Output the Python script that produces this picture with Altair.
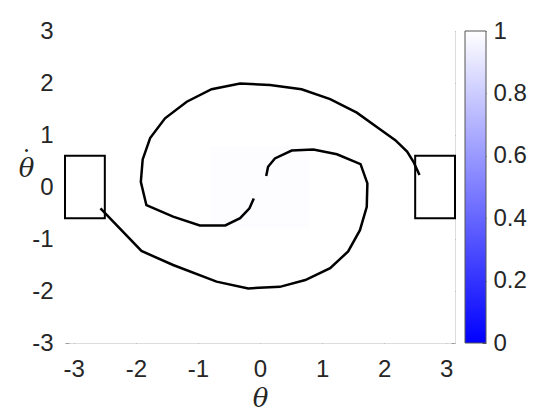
import altair as alt
import numpy as np
import pandas as pd

PI = float(np.pi)

# Trajectory A (starts in right box, spirals in toward the centre)
curveA_theta = [2.57, 2.47, 2.37, 2.18, 1.91, 1.56, 1.13, 0.67, 0.16, -0.32, -0.78, -1.18,
                -1.53, -1.77, -1.89, -1.92, -1.83, -1.40, -0.97, -0.56, -0.32, -0.17, -0.10]
curveA_dtheta = [0.23, 0.49, 0.68, 0.90, 1.13, 1.43, 1.69, 1.88, 1.96, 1.99, 1.88, 1.64,
                 1.32, 0.94, 0.53, 0.10, -0.35, -0.57, -0.74, -0.74, -0.60, -0.41, -0.22]

# Trajectory B (starts in left box, spirals in toward the centre)
curveB_theta = [-2.57, -1.91, -1.40, -0.70, -0.19, 0.32, 0.73, 1.13, 1.42, 1.61, 1.72, 1.73,
                1.62, 1.24, 0.86, 0.51, 0.24, 0.13, 0.10]
curveB_dtheta = [-0.41, -1.23, -1.50, -1.82, -1.95, -1.92, -1.79, -1.56, -1.24, -0.83, -0.38, 0.07,
                 0.44, 0.63, 0.72, 0.70, 0.55, 0.39, 0.21]

# Goal boxes
box_theta0 = [-PI, 2.5]
box_theta1 = [-2.5, PI]
box_dtheta0 = [-0.6, -0.6]
box_dtheta1 = [0.6, 0.6]

# Background value field (almost entirely 1 = white)
heat_theta_edges = [-PI, -0.8, 0.8, PI]
heat_dtheta_edges = [-3.0, -0.8, 0.8, 3.0]
heat_values = [[1.0, 1.0, 1.0],
               [1.0, 0.993, 1.0],
               [1.0, 1.0, 1.0]]

tick_vals = [-3, -2, -1, 0, 1, 2, 3]
cbar_lo = [0.0]
cbar_hi = [1.0]
cbar_vals = [0, 0.2, 0.4, 0.6, 0.8, 1]
CMAP_LOW, CMAP_HIGH = "#0000ff", "#ffffff"

W, H = 390, 312
CB_X0, CB_X1 = 400, 421
FONT = "Liberation Sans"
AXCOL = "#a0a0a0"
TXT = "#262626"
LFS = 24

rows = []
for i in range(3):
    for j in range(3):
        rows.append(dict(x0=heat_theta_edges[j], x1=heat_theta_edges[j + 1],
                         y0=heat_dtheta_edges[i], y1=heat_dtheta_edges[i + 1],
                         v=heat_values[i][j]))
heat_df = pd.DataFrame(rows)

dfA = pd.DataFrame(dict(t=curveA_theta, d=curveA_dtheta, o=range(len(curveA_theta))))
dfB = pd.DataFrame(dict(t=curveB_theta, d=curveB_dtheta, o=range(len(curveB_theta))))
box_df = pd.DataFrame(dict(x0=box_theta0, x1=box_theta1, y0=box_dtheta0, y1=box_dtheta1))
cb_df = pd.DataFrame(dict(lo=cbar_lo, hi=cbar_hi))

xs = alt.Scale(domain=[-PI, PI], nice=False, zero=False)
ys = alt.Scale(domain=[-3, 3], nice=False, zero=False)
cs = alt.Scale(domain=[0, 1], nice=False, zero=False)

def tick_axis(orient, offset, vals=tick_vals, color=AXCOL, **kw):
    return alt.Axis(orient=orient, offset=offset, values=vals, labels=False, domain=False,
                    grid=False, ticks=True, tickSize=4, tickColor=color, **kw)

heat = alt.Chart(heat_df).mark_rect(strokeWidth=0).encode(
    x=alt.X("x0:Q", scale=xs, axis=alt.Axis(
        orient="bottom", values=tick_vals, ticks=False, domain=False, grid=False,
        labelFont=FONT, labelFontSize=LFS, labelColor=TXT, labelPadding=14,
        labelExpr="toString(datum.value)",
        title="θ", titleFont="DejaVu Serif", titleFontStyle="italic", titleFontWeight="normal",
        titleFontSize=26, titleColor=TXT, titlePadding=4)),
    x2="x1:Q",
    y=alt.Y("y0:Q", scale=ys, axis=alt.Axis(
        orient="left", values=tick_vals, ticks=False, domain=False, grid=False,
        labelFont=FONT, labelFontSize=LFS, labelColor=TXT, labelPadding=12,
        labelExpr="toString(datum.value)",
        title="θ", titleFont="DejaVu Serif", titleFontStyle="italic", titleFontWeight="normal",
        titleFontSize=26, titleColor=TXT, titleAngle=0, titleAlign="center", titleBaseline="middle",
        titleX=-39, titleY=137)),
    y2="y1:Q",
    color=alt.Color("v:Q", scale=alt.Scale(domain=[0, 1], range=[CMAP_LOW, CMAP_HIGH],
                                           interpolate="rgb"), legend=None),
)

boxes = alt.Chart(box_df).mark_rect(fill=None, stroke="black", strokeWidth=2).encode(
    x=alt.X("x0:Q", scale=xs, axis=None), x2="x1:Q",
    y=alt.Y("y0:Q", scale=ys, axis=None), y2="y1:Q",
)

lineA = alt.Chart(dfA).mark_line(color="black", strokeWidth=2.5).encode(
    x=alt.X("t:Q", scale=xs, axis=tick_axis("top", -H, title=None)),
    y=alt.Y("d:Q", scale=ys, axis=tick_axis(
        "right", -W, title="\u02d9", titleFont="DejaVu Serif", titleFontWeight="normal",
        titleFontSize=26, titleColor=TXT, titleAngle=0, titleAlign="center",
        titleBaseline="middle", titleX=-39, titleY=129)),
    order="o:Q",
)

lineB = alt.Chart(dfB).mark_line(color="black", strokeWidth=2.5).encode(
    x=alt.X("t:Q", scale=xs, axis=tick_axis("bottom", -H, title=None)),
    y=alt.Y("d:Q", scale=ys, axis=tick_axis("left", -W, title=None)),
    order="o:Q",
)

# Colour bar
grad = alt.Gradient(gradient="linear", x1=0, y1=1, x2=0, y2=0,
                    stops=[alt.GradientStop(color=CMAP_LOW, offset=0),
                           alt.GradientStop(color=CMAP_HIGH, offset=1)])
cb_rect = alt.Chart(cb_df).mark_rect(fill=grad, stroke="#555555", strokeWidth=1).encode(
    x=alt.value(CB_X0), x2=alt.value(CB_X1),
    y=alt.Y("lo:Q", scale=cs, axis=alt.Axis(
        orient="right", offset=CB_X1 - W, values=cbar_vals, ticks=False, domain=False, grid=False,
        labelFont=FONT, labelFontSize=LFS, labelColor=TXT, labelPadding=7, format="~g",
        title=None)),
    y2="hi:Q",
)
cb_ticks = alt.Chart(cb_df).mark_rect(fill=None, strokeWidth=0).encode(
    x=alt.value(CB_X0), x2=alt.value(CB_X1),
    y=alt.Y("lo:Q", scale=cs, axis=tick_axis("left", -CB_X1, vals=cbar_vals, color="#555555",
                                             title=None)),
    y2="hi:Q",
)
cbar = alt.layer(cb_rect, cb_ticks).resolve_axis(y="independent")

chart = alt.layer(heat, boxes, lineA, lineB, cbar).resolve_axis(
    x="independent", y="independent"
).resolve_scale(y="independent").properties(
    width=W, height=H,
    autosize=alt.AutoSizeParams(type="none"),
    padding={"left": 57, "top": 23, "right": 90, "bottom": 69},
).configure_view(stroke=AXCOL, strokeWidth=1).configure(background="white")

chart.save("out.html", embed_options={"renderer": "svg", "actions": False})
